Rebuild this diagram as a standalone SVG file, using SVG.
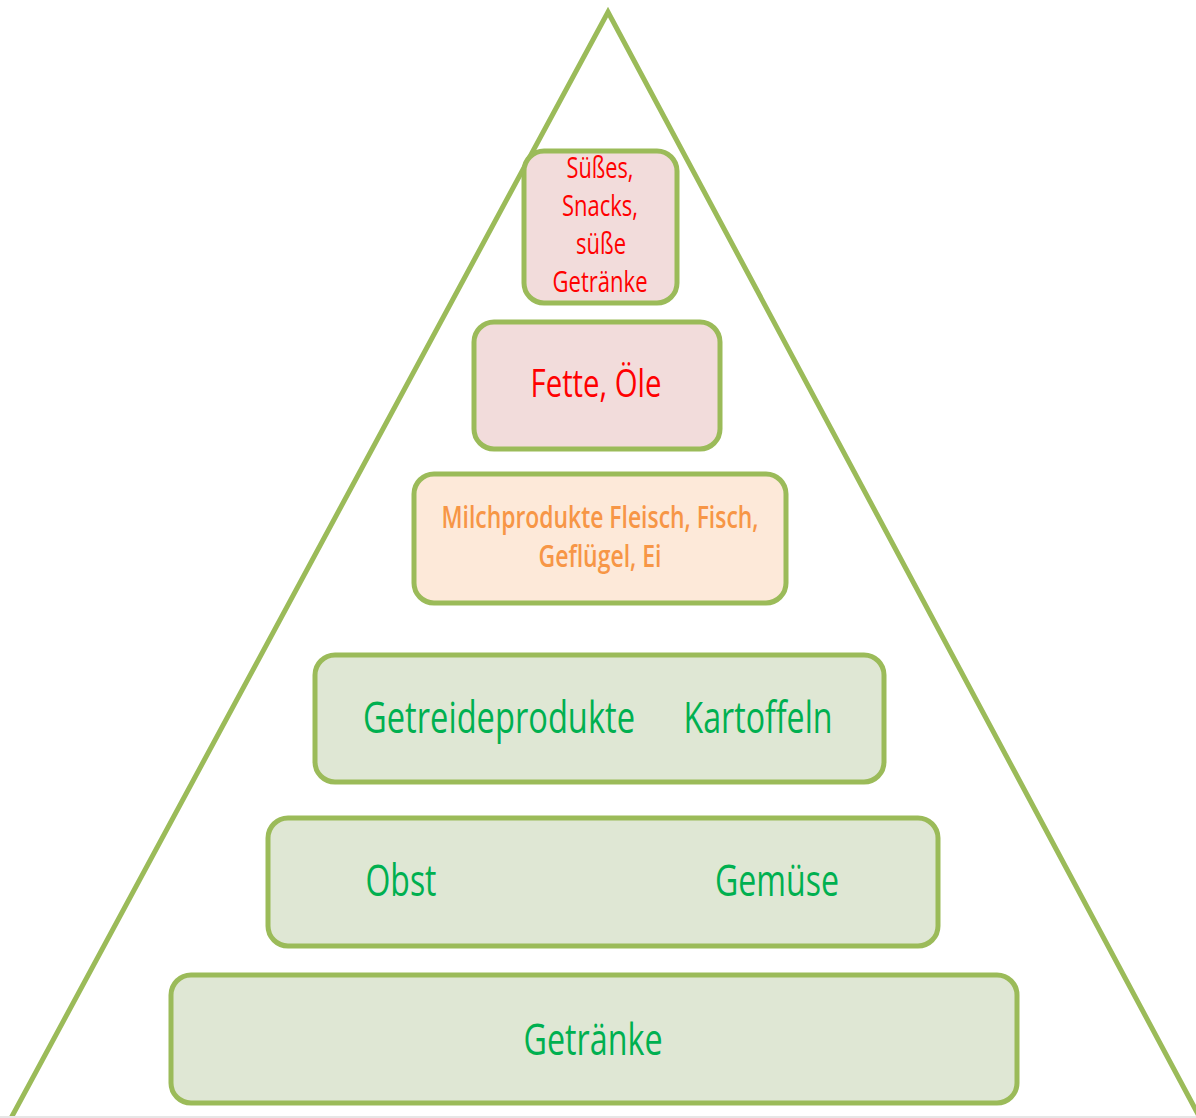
<svg xmlns="http://www.w3.org/2000/svg" width="1196" height="1118" viewBox="0 0 1196 1118">
<style>
.box{stroke:#9bbb59;stroke-width:5}
.g{fill:#dfe7d4}
.p{fill:#f2dcdb}
.o{fill:#fde9d9}
text{font-family:"Open Sans","Liberation Sans",sans-serif;text-anchor:middle}
.red{fill:#ff0000}
.org{fill:#f79646;font-weight:600}
.grn{fill:#00b050}
</style>
<rect width="1196" height="1118" fill="#ffffff"/>
<g id="connectors">
<polyline points="10,1120 608,12 1199,1116" fill="none" stroke="#9bbb59" stroke-width="5" stroke-linejoin="miter"/>
<line x1="0" y1="1117" x2="1196" y2="1117" stroke="#e6e6e6" stroke-width="2"/>
</g>
<g id="suesses">
<rect class="box p" x="524" y="151" width="153" height="152" rx="20"/>
<text class="red" font-size="25" transform="translate(600,178) scale(1,1.15)" textLength="67" lengthAdjust="spacingAndGlyphs">Süßes,</text>
<text class="red" font-size="25" transform="translate(600,216) scale(1,1.15)" textLength="76" lengthAdjust="spacingAndGlyphs">Snacks,</text>
<text class="red" font-size="25" transform="translate(601,254) scale(1,1.15)" textLength="50" lengthAdjust="spacingAndGlyphs">süße</text>
<text class="red" font-size="25" transform="translate(600,292) scale(1,1.15)" textLength="95" lengthAdjust="spacingAndGlyphs">Getränke</text>
</g>
<g id="fette">
<rect class="box p" x="474" y="322" width="246" height="127" rx="20"/>
<text class="red" font-size="34" transform="translate(596,397) scale(1,1.15)" textLength="131" lengthAdjust="spacingAndGlyphs">Fette, Öle</text>
</g>
<g id="milch">
<rect class="box o" x="414" y="474" width="372" height="129" rx="20"/>
<text class="org" font-size="26" transform="translate(600,528) scale(1,1.15)" textLength="317" lengthAdjust="spacingAndGlyphs">Milchprodukte Fleisch, Fisch,</text>
<text class="org" font-size="26" transform="translate(600,567) scale(1,1.15)" textLength="123" lengthAdjust="spacingAndGlyphs">Geflügel, Ei</text>
</g>
<g id="getreide">
<rect class="box g" x="315" y="655" width="569" height="127" rx="20"/>
<text class="grn" font-size="37" transform="translate(499,733) scale(1,1.18)" textLength="272" lengthAdjust="spacingAndGlyphs">Getreideprodukte</text>
<text class="grn" font-size="37" transform="translate(758,733) scale(1,1.18)" textLength="149" lengthAdjust="spacingAndGlyphs">Kartoffeln</text>
</g>
<g id="obstgemuese">
<rect class="box g" x="268" y="818" width="670" height="128" rx="20"/>
<text class="grn" font-size="37" transform="translate(401,896) scale(1,1.18)" textLength="71" lengthAdjust="spacingAndGlyphs">Obst</text>
<text class="grn" font-size="37" transform="translate(777,896) scale(1,1.18)" textLength="124" lengthAdjust="spacingAndGlyphs">Gemüse</text>
</g>
<g id="getraenke">
<rect class="box g" x="171" y="975" width="846" height="128" rx="20"/>
<text class="grn" font-size="37" transform="translate(593,1055) scale(1,1.18)" textLength="139" lengthAdjust="spacingAndGlyphs">Getränke</text>
</g>
</svg>
